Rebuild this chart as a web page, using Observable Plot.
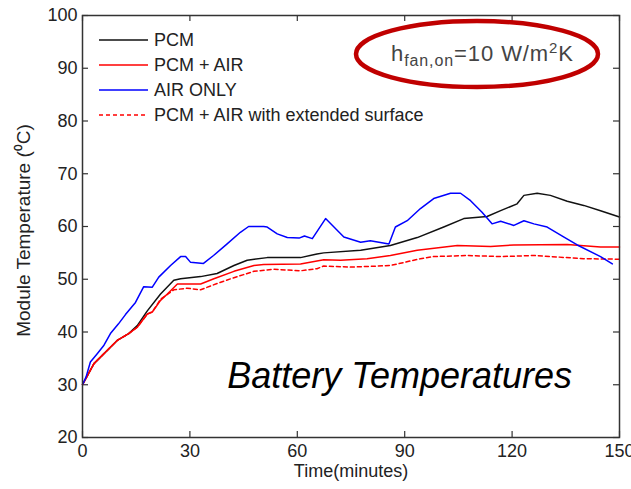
<!DOCTYPE html>
<html>
<head>
<meta charset="utf-8">
<script src="https://cdn.jsdelivr.net/npm/d3@7"></script>
<script src="https://cdn.jsdelivr.net/npm/@observablehq/plot@0.6"></script>
<style>
  html, body { margin: 0; padding: 0; background: #fff; }
  #chart { position: relative; width: 631px; height: 489px; }
</style>
</head>
<body>
<div id="chart"></div>
<script>
// ---- data ----
const seriesNames = ["PCM", "PCM + AIR", "AIR ONLY", "PCM + AIR with extended surface"];

const timePCM = [0, 3.2, 9.7, 12.9, 15.3, 18.1, 21.8, 25.5, 27.4, 33, 37.6, 42.3, 46, 51.6, 60.9, 65.5, 67.4, 77.7, 86, 93.5, 100.9, 106.5, 113, 116.8, 121.4, 123.3, 127, 130.7, 135.4, 140, 144.7, 150];
const tempPCM = [30, 34, 38.4, 39.7, 41.2, 44, 47.2, 49.8, 50.1, 50.5, 51.1, 52.6, 53.6, 54.1, 54.1, 54.8, 55, 55.5, 56.4, 57.9, 59.9, 61.5, 61.9, 63, 64.3, 65.9, 66.3, 65.9, 64.8, 64, 63, 61.8];

const timePCMAir = [0, 3.2, 9.7, 12.9, 15.3, 18.1, 19.5, 21.8, 23.7, 26.5, 29.2, 33, 36.7, 42.3, 47.9, 50.6, 60.9, 67.4, 72.1, 79.5, 86, 93.5, 104.7, 114, 120.5, 135.4, 144.7, 150];
const tempPCMAir = [30, 34, 38.4, 39.7, 40.9, 43.4, 43.8, 46, 47.2, 49.1, 49.1, 49.1, 50.1, 51.5, 52.6, 52.8, 52.9, 53.7, 53.6, 53.9, 54.5, 55.5, 56.4, 56.2, 56.5, 56.6, 56.1, 56.1];

const timeAir = [0, 1, 2.2, 4, 6, 7.8, 10, 12, 14.8, 17.1, 19.5, 21.3, 24.6, 27.4, 28.8, 30.2, 33.8, 36.6, 40.4, 44.1, 46.4, 50.6, 51.6, 54.4, 57.2, 60.5, 62, 64.2, 67.9, 73, 77.7, 80.4, 85.6, 87.4, 90.7, 94.4, 98.1, 102.8, 105.6, 108.4, 111.6, 114.4, 116.8, 120.5, 123.3, 126.1, 129.8, 134.5, 138.2, 144.7, 148];
const tempAir = [30, 31.5, 34.3, 35.8, 37.5, 39.7, 41.5, 43.3, 45.6, 48.6, 48.5, 50.4, 52.6, 54.3, 54.3, 53.2, 53, 54.5, 56.7, 58.9, 60, 60, 59.9, 58.6, 57.9, 57.8, 58.2, 57.7, 61.5, 58, 57, 57.3, 56.7, 59.9, 61.1, 63.4, 65.3, 66.3, 66.3, 64.9, 62.7, 60.5, 61, 60.2, 61.1, 60.5, 59.9, 58, 56.5, 54.3, 52.9];

const timeExt = [0, 3.2, 9.7, 12.9, 15.3, 18.1, 19.5, 21.8, 25.5, 29.2, 33, 37.6, 42.3, 47.9, 53.4, 60.9, 65.5, 67.4, 74.9, 86, 94.4, 98.1, 107.4, 116.8, 126.1, 140, 150];
const tempExt = [30, 34, 38.4, 39.7, 40.9, 43.4, 43.8, 46.2, 48, 48.3, 48, 49.2, 50.3, 51.5, 51.9, 51.6, 52, 52.5, 52.3, 52.6, 53.9, 54.3, 54.5, 54.3, 54.5, 53.9, 53.8];

const xTicks = [0, 30, 60, 90, 120, 150];
const yTicks = [20, 30, 40, 50, 60, 70, 80, 90, 100];

const xLabel = "Time(minutes)";
const yLabel = "Module Temperature (\u2070C)";
const overlayTitle = "Battery Temperatures";

// ---- build rows ----
const rows = (ts, vs, name) => ts.map((t, i) => ({t, v: vs[i], name}));
const dPCM = rows(timePCM, tempPCM, seriesNames[0]);
const dPCMAir = rows(timePCMAir, tempPCMAir, seriesNames[1]);
const dAir = rows(timeAir, tempAir, seriesNames[2]);
const dExt = rows(timeExt, tempExt, seriesNames[3]);

const W = 631, H = 489;
const mL = 82, mR = 12, mT = 15, mB = 52;
const innerW = W - mL - mR, innerH = H - mT - mB;
const tickLen = 6;
const font = "'Liberation Sans', Arial, Helvetica, sans-serif";
const axisColor = "#333";

const chart = Plot.plot({
  width: W, height: H,
  marginLeft: mL, marginRight: mR, marginTop: mT, marginBottom: mB,
  x: {domain: [0, 150]},
  y: {domain: [20, 100]},
  style: {fontFamily: font, fontSize: "18px", color: "#222", background: "#fff"},
  marks: [
    Plot.axisX(xTicks, {tickSize: 0, tickPadding: 7, label: null, fontSize: 18}),
    Plot.axisY(yTicks, {tickSize: 0, tickPadding: 5, label: null, fontSize: 18}),
    // inward ticks (bottom, top, left, right)
    Plot.tickX(xTicks, {x: d => d, insetTop: innerH - tickLen, stroke: axisColor, strokeWidth: 1.2}),
    Plot.tickX(xTicks, {x: d => d, insetBottom: innerH - tickLen, stroke: axisColor, strokeWidth: 1.2}),
    Plot.tickY(yTicks, {y: d => d, insetRight: innerW - tickLen, stroke: axisColor, strokeWidth: 1.2}),
    Plot.tickY(yTicks, {y: d => d, insetLeft: innerW - tickLen, stroke: axisColor, strokeWidth: 1.2}),
    Plot.line(dPCM, {x: "t", y: "v", stroke: "#111", strokeWidth: 1.5}),
    Plot.line(dExt, {x: "t", y: "v", stroke: "#ff0000", strokeWidth: 1.5, strokeDasharray: "4,3"}),
    Plot.line(dPCMAir, {x: "t", y: "v", stroke: "#ff0000", strokeWidth: 1.5}),
    Plot.line(dAir, {x: "t", y: "v", stroke: "#0000ff", strokeWidth: 1.5}),
    Plot.frame({stroke: axisColor, strokeWidth: 1.5}),
    Plot.text([xLabel], {text: d => d, frameAnchor: "bottom", dy: 39, fontSize: 18, fill: "#222"}),
    Plot.text([yLabel], {text: d => d, frameAnchor: "left", textAnchor: "middle", dx: -59, dy: 4, rotate: -90, fontSize: 19, fill: "#222"})
  ]
});

document.getElementById("chart").appendChild(chart);

// ---- legend, annotation and overlay title ----
const svg = d3.select(chart);
const legend = svg.append("g").attr("font-family", font).attr("font-size", 18)
  .attr("fill", "#222").attr("text-anchor", "start");
const legendItems = [
  {name: seriesNames[0], color: "#111", dash: null},
  {name: seriesNames[1], color: "#ff0000", dash: null},
  {name: seriesNames[2], color: "#0000ff", dash: null},
  {name: seriesNames[3], color: "#ff0000", dash: "4,3"}
];
legendItems.forEach((d, i) => {
  const y = 40 + i * 25;
  legend.append("line").attr("x1", 99).attr("x2", 148).attr("y1", y).attr("y2", y)
    .attr("stroke", d.color).attr("stroke-width", 1.5).attr("stroke-dasharray", d.dash);
  legend.append("text").attr("x", 154).attr("y", y).attr("dy", "0.35em").text(d.name);
});

const ann = svg.append("g");
ann.append("ellipse").attr("cx", 477).attr("cy", 54).attr("rx", 121).attr("ry", 33)
  .attr("fill", "none").attr("stroke", "#c00000").attr("stroke-width", 4.5);
const t = ann.append("text").attr("x", 391).attr("y", 61).attr("font-family", font)
  .attr("text-anchor", "start")
  .attr("font-size", 22).attr("fill", "#444").attr("textLength", 182).attr("lengthAdjust", "spacing");
t.append("tspan").text("h");
t.append("tspan").attr("font-size", 16).attr("dy", 5).text("fan,on");
t.append("tspan").attr("dy", -5).text("=10 W/m");
t.append("tspan").attr("font-size", 15).attr("dy", -8).text("2");
t.append("tspan").attr("dy", 8).text("K");

svg.append("text").attr("x", 572).attr("y", 388).attr("text-anchor", "end")
  .attr("font-family", font).attr("font-style", "italic").attr("font-size", 36)
  .attr("fill", "#000").text(overlayTitle);
</script>
</body>
</html>
